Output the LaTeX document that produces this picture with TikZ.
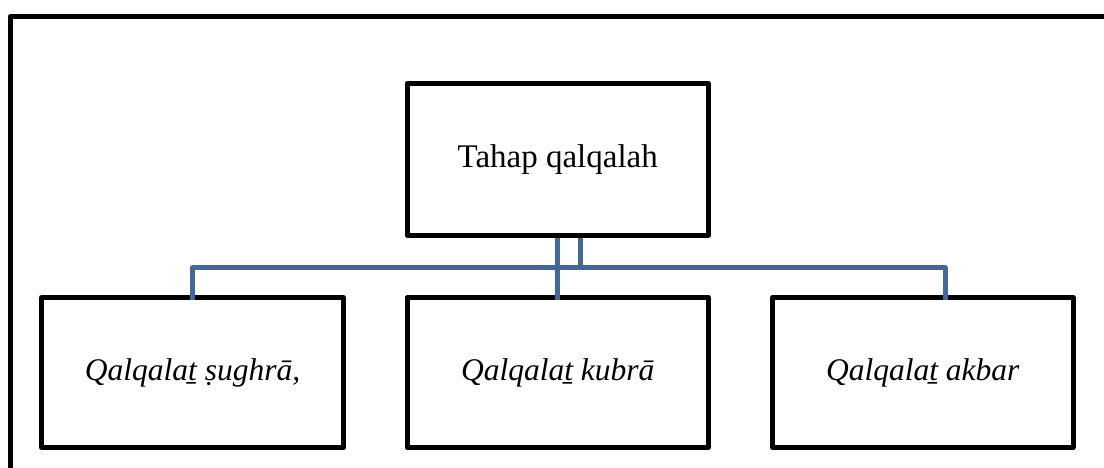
\documentclass[tikz,border=0pt]{standalone}
\usepackage{fontspec}
\setmainfont{Liberation Serif}
\definecolor{linkblue}{RGB}{66,104,155}
\tikzset{
  box/.style={draw=black, line width=5pt, rectangle, outer sep=0pt, inner sep=0pt,
              line join=round, align=center},
  toplabel/.style={font=\fontsize{33}{38}\selectfont},
  sublabel/.style={font=\fontsize{31.5}{37}\selectfont\itshape},
  link/.style={draw=linkblue, line width=5pt, line join=round}
}
\begin{document}
\begin{tikzpicture}[x=1pt, y=-1pt]
  \useasboundingbox (0,0) rectangle (1104,468);
  % outer frame
  \coordinate (fbl) at (10,480);
  \coordinate (ftl) at (10,17);
  \coordinate (ftr) at (1115,17);
  \draw[line width=5pt, line join=round] (fbl) -- (ftl) -- (ftr);
  % boxes
  \node[box, toplabel, minimum width=301.5pt, minimum height=151.5pt] (top) at (557.75,159.25) {Tahap qalqalah};
  \node[box, sublabel, minimum width=302pt, minimum height=150pt] (left) at (192.5,372.5) {Qalqalaṯ ṣughrā,};
  \node[box, sublabel, minimum width=301.5pt, minimum height=150pt] (mid) at (557.75,372.5) {Qalqalaṯ kubrā};
  \node[box, sublabel, minimum width=300.5pt, minimum height=150pt] (right) at (922.75,372.5) {Qalqalaṯ akbar};
  % connectors
  \coordinate (hub) at (580.5,267.5);
  \coordinate (hl) at (192.5,267.5);
  \coordinate (hr) at (945,267.5);
  \coordinate (rdrop) at (945,300);
  \coordinate (ldrop) at (192.5,300);
  \coordinate (hubtop) at (580.5,237.5);
  \draw[link] (hubtop) -- (hub);
  \draw[link] (ldrop) -- (hl) -- (hr) -- (rdrop);
  \draw[link] ([yshift=-2.5pt]top.south) -- ([yshift=-2.5pt]mid.north);
\end{tikzpicture}
\end{document}
